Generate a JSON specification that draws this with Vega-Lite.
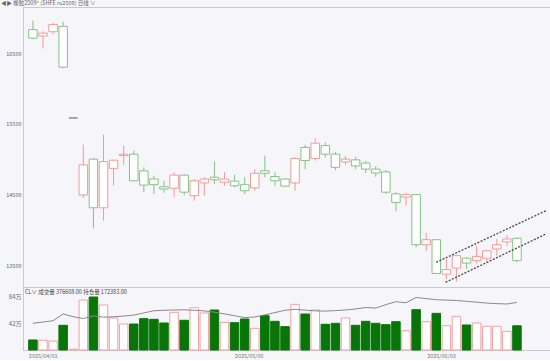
{
  "$schema": "https://vega.github.io/schema/vega-lite/v6.json",
  "background": "#f5f5fa",
  "padding": {"left": 0, "top": 0, "right": 0, "bottom": 1},
  "spacing": 0,
  "bounds": "flush",
  "config": {
    "font": "Noto Sans CJK SC",
    "view": {"stroke": "#c9c9d2", "strokeWidth": 1},
    "axis": {"labelFont": "Noto Sans CJK SC", "labelColor": "#666666", "labelFontSize": 5.5, "domain": false, "ticks": false, "grid": false, "title": null, "labelFlush": false}
  },
  "datasets": {
    "k": [
      {"i": 0, "d": "2025-04-01", "o": 16830, "h": 16955, "l": 16695, "c": 16710, "dir": "down", "v": 15.6, "oi": 9.66},
      {"i": 1, "d": "2025-04-02", "o": 16740, "h": 16805, "l": 16565, "c": 16780, "dir": "up", "v": 15.2, "oi": 10.13},
      {"i": 2, "d": "2025-04-03", "o": 16800, "h": 16925, "l": 16765, "c": 16900, "dir": "up", "v": 14.0, "oi": 10.6},
      {"i": 3, "d": "2025-04-07", "o": 16875, "h": 16940, "l": 16285, "c": 16300, "dir": "down", "v": 38.4, "oi": 13.03},
      {"i": 4, "d": "2025-04-08", "o": 15585, "h": 15585, "l": 15585, "c": 15585, "dir": "flat", "v": 1.2, "oi": 12.05},
      {"i": 5, "d": "2025-04-09", "o": 14500, "h": 15210, "l": 14460, "c": 14925, "dir": "up", "v": 77.8, "oi": 11.4},
      {"i": 6, "d": "2025-04-10", "o": 15005, "h": 15020, "l": 14030, "c": 14320, "dir": "down", "v": 82.4, "oi": 12.34},
      {"i": 7, "d": "2025-04-11", "o": 14320, "h": 15350, "l": 14140, "c": 14970, "dir": "up", "v": 70.0, "oi": 11.87},
      {"i": 8, "d": "2025-04-14", "o": 14875, "h": 14995, "l": 14630, "c": 14990, "dir": "up", "v": 49.8, "oi": 12.02},
      {"i": 9, "d": "2025-04-15", "o": 15055, "h": 15195, "l": 14925, "c": 15075, "dir": "up", "v": 40.4, "oi": 12.27},
      {"i": 10, "d": "2025-04-16", "o": 15075, "h": 15125, "l": 14700, "c": 14700, "dir": "down", "v": 40.4, "oi": 12.63},
      {"i": 11, "d": "2025-04-17", "o": 14840, "h": 14890, "l": 14540, "c": 14640, "dir": "down", "v": 48.7, "oi": 13.43},
      {"i": 12, "d": "2025-04-18", "o": 14725, "h": 14770, "l": 14515, "c": 14645, "dir": "down", "v": 47.7, "oi": 14.22},
      {"i": 13, "d": "2025-04-21", "o": 14615, "h": 14700, "l": 14530, "c": 14585, "dir": "down", "v": 42.0, "oi": 14.37},
      {"i": 14, "d": "2025-04-22", "o": 14595, "h": 14820, "l": 14470, "c": 14780, "dir": "up", "v": 58.6, "oi": 14.48},
      {"i": 15, "d": "2025-04-23", "o": 14780, "h": 14790, "l": 14495, "c": 14540, "dir": "down", "v": 46.2, "oi": 14.55},
      {"i": 16, "d": "2025-04-24", "o": 14490, "h": 14725, "l": 14420, "c": 14700, "dir": "up", "v": 65.8, "oi": 14.37},
      {"i": 17, "d": "2025-04-25", "o": 14670, "h": 14750, "l": 14490, "c": 14725, "dir": "up", "v": 57.6, "oi": 14.15},
      {"i": 18, "d": "2025-04-28", "o": 14750, "h": 14970, "l": 14655, "c": 14715, "dir": "down", "v": 62.2, "oi": 13.68},
      {"i": 19, "d": "2025-04-29", "o": 14680, "h": 14820, "l": 14630, "c": 14725, "dir": "up", "v": 43.0, "oi": 13.06},
      {"i": 20, "d": "2025-04-30", "o": 14695, "h": 14785, "l": 14610, "c": 14630, "dir": "down", "v": 42.5, "oi": 12.38},
      {"i": 21, "d": "2025-05-06", "o": 14645, "h": 14750, "l": 14515, "c": 14560, "dir": "down", "v": 48.2, "oi": 11.73},
      {"i": 22, "d": "2025-05-07", "o": 14600, "h": 14865, "l": 14560, "c": 14805, "dir": "up", "v": 33.7, "oi": 11.94},
      {"i": 23, "d": "2025-05-08", "o": 14840, "h": 15055, "l": 14750, "c": 14805, "dir": "down", "v": 53.4, "oi": 12.74},
      {"i": 24, "d": "2025-05-09", "o": 14760, "h": 14820, "l": 14630, "c": 14700, "dir": "down", "v": 44.6, "oi": 13.54},
      {"i": 25, "d": "2025-05-12", "o": 14725, "h": 14730, "l": 14610, "c": 14625, "dir": "down", "v": 36.3, "oi": 14.37},
      {"i": 26, "d": "2025-05-13", "o": 14670, "h": 15030, "l": 14560, "c": 15015, "dir": "up", "v": 71.0, "oi": 14.73},
      {"i": 27, "d": "2025-05-14", "o": 15170, "h": 15205, "l": 14865, "c": 14985, "dir": "down", "v": 56.0, "oi": 14.44},
      {"i": 28, "d": "2025-05-15", "o": 15015, "h": 15300, "l": 14985, "c": 15230, "dir": "up", "v": 62.2, "oi": 14.15},
      {"i": 29, "d": "2025-05-16", "o": 15195, "h": 15240, "l": 15030, "c": 15075, "dir": "down", "v": 40.0, "oi": 14.08},
      {"i": 30, "d": "2025-05-19", "o": 15075, "h": 15105, "l": 14850, "c": 14890, "dir": "down", "v": 41.5, "oi": 14.26},
      {"i": 31, "d": "2025-05-20", "o": 14965, "h": 15050, "l": 14925, "c": 15005, "dir": "up", "v": 49.8, "oi": 14.48},
      {"i": 32, "d": "2025-05-21", "o": 14995, "h": 15035, "l": 14865, "c": 14910, "dir": "down", "v": 38.4, "oi": 14.84},
      {"i": 33, "d": "2025-05-22", "o": 14950, "h": 14980, "l": 14810, "c": 14865, "dir": "down", "v": 44.6, "oi": 15.38},
      {"i": 34, "d": "2025-05-23", "o": 14865, "h": 14910, "l": 14755, "c": 14810, "dir": "down", "v": 41.5, "oi": 15.16},
      {"i": 35, "d": "2025-05-26", "o": 14825, "h": 14850, "l": 14515, "c": 14540, "dir": "down", "v": 39.4, "oi": 16.43},
      {"i": 36, "d": "2025-05-27", "o": 14515, "h": 14540, "l": 14270, "c": 14395, "dir": "down", "v": 44.0, "oi": 17.48},
      {"i": 37, "d": "2025-05-28", "o": 14470, "h": 14530, "l": 14350, "c": 14505, "dir": "up", "v": 30.0, "oi": 17.08},
      {"i": 38, "d": "2025-05-29", "o": 14505, "h": 14510, "l": 13765, "c": 13800, "dir": "down", "v": 62.7, "oi": 19.0},
      {"i": 39, "d": "2025-05-30", "o": 13800, "h": 13965, "l": 13715, "c": 13870, "dir": "up", "v": 44.0, "oi": 18.6},
      {"i": 40, "d": "2025-06-03", "o": 13870, "h": 13875, "l": 13385, "c": 13395, "dir": "down", "v": 57.0, "oi": 18.2},
      {"i": 41, "d": "2025-06-04", "o": 13385, "h": 13600, "l": 13315, "c": 13450, "dir": "up", "v": 37.8, "oi": 18.06},
      {"i": 42, "d": "2025-06-05", "o": 13470, "h": 13655, "l": 13280, "c": 13645, "dir": "up", "v": 52.4, "oi": 17.91},
      {"i": 43, "d": "2025-06-06", "o": 13610, "h": 13625, "l": 13460, "c": 13540, "dir": "down", "v": 38.9, "oi": 17.62},
      {"i": 44, "d": "2025-06-09", "o": 13575, "h": 13785, "l": 13540, "c": 13635, "dir": "up", "v": 42.0, "oi": 17.3},
      {"i": 45, "d": "2025-06-10", "o": 13610, "h": 13730, "l": 13550, "c": 13715, "dir": "up", "v": 36.9, "oi": 16.97},
      {"i": 46, "d": "2025-06-11", "o": 13740, "h": 13880, "l": 13645, "c": 13800, "dir": "up", "v": 36.9, "oi": 16.79},
      {"i": 47, "d": "2025-06-12", "o": 13840, "h": 13935, "l": 13785, "c": 13880, "dir": "up", "v": 29.0, "oi": 16.65},
      {"i": 48, "d": "2025-06-13", "o": 13890, "h": 13905, "l": 13550, "c": 13575, "dir": "down", "v": 37.66, "oi": 17.24}
    ],
    "chan": [
      {"line": "upper", "i": 40.0, "p": 13552},
      {"line": "upper", "i": 50.88, "p": 14279},
      {"line": "lower", "i": 40.92, "p": 13270},
      {"line": "lower", "i": 50.88, "p": 13951}
    ]
  },
  "vconcat": [
    {
      "width": 528,
      "height": 280,
      "title": {"text": "◀▶ 橡胶2509* (SHFE ru2509)  日线 ∨", "anchor": "start", "frame": "group", "fontSize": 5.5, "fontWeight": "normal", "color": "#666666", "dx": -22, "offset": 1},
      "data": {"name": "k"},
      "layer": [
        {
          "mark": {"type": "rule", "strokeWidth": 1},
          "encoding": {
            "x": {"field": "i", "type": "quantitative", "scale": {"domain": [-0.486, 50.88], "nice": false, "zero": false}, "axis": null},
            "y": {"field": "l", "type": "quantitative", "scale": {"domain": [13204, 17148], "nice": false, "zero": false},
                  "axis": {"values": [13500, 14500, 15500, 16500], "labelPadding": 2, "format": "d"}},
            "y2": {"field": "h"},
            "color": {"condition": [{"test": "datum.dir === 'up'", "value": "#f29a9a"}, {"test": "datum.dir === 'flat'", "value": "#8a8a8a"}], "value": "#86c386"}
          }
        },
        {
          "mark": {"type": "bar", "size": 8.5, "fill": "#ffffff", "strokeWidth": 1},
          "encoding": {
            "x": {"field": "i", "type": "quantitative"},
            "y": {"field": "o", "type": "quantitative"},
            "y2": {"field": "c"},
            "stroke": {"condition": [{"test": "datum.dir === 'up'", "value": "#f29a9a"}, {"test": "datum.dir === 'flat'", "value": "#8a8a8a"}], "value": "#86c386"}
          }
        },
        {
          "data": {"name": "chan"},
          "mark": {"type": "line", "strokeDash": [2, 1.5], "color": "#4a4a4a", "strokeWidth": 1.3},
          "encoding": {
            "x": {"field": "i", "type": "quantitative"},
            "y": {"field": "p", "type": "quantitative"},
            "detail": {"field": "line"}
          }
        }
      ]
    },
    {
      "width": 528,
      "height": 63,
      "title": {"text": "CL∨  成交量 376608.00  持仓量 172383.00", "anchor": "start", "frame": "group", "fontSize": 5.5, "fontWeight": "normal", "color": "#444444", "dx": 2, "offset": -8},
      "data": {"name": "k"},
      "layer": [
        {
          "mark": {"type": "bar", "size": 8.5, "strokeWidth": 1},
          "encoding": {
            "x": {"field": "i", "type": "quantitative", "scale": {"domain": [-0.486, 50.88], "nice": false, "zero": false},
                  "axis": {"values": [0.97, 21.4, 40.47], "labelExpr": "datum.value < 5 ? '2025/04/01' : datum.value < 30 ? '2025/05/06' : '2025/06/03'", "labelPadding": 3, "labelColor": "#777777"}},
            "y": {"field": "v", "type": "quantitative", "scale": {"domain": [0, 98], "nice": false},
                  "axis": {"values": [42, 84], "labelExpr": "datum.value + '万'", "labelFontSize": 6, "labelPadding": 2}},
            "fill": {"condition": {"test": "datum.dir === 'down'", "value": "#087508"}, "value": "#ffffff"},
            "stroke": {"condition": {"test": "datum.dir === 'down'", "value": "#087508"}, "value": "#f2a0a0"}
          }
        },
        {
          "mark": {"type": "line", "color": "#8a8a8a", "strokeWidth": 1},
          "encoding": {
            "x": {"field": "i", "type": "quantitative"},
            "y": {"field": "oi", "type": "quantitative", "scale": {"domain": [0, 22.8], "nice": false}, "axis": null}
          }
        }
      ],
      "resolve": {"scale": {"y": "independent"}}
    }
  ]
}
